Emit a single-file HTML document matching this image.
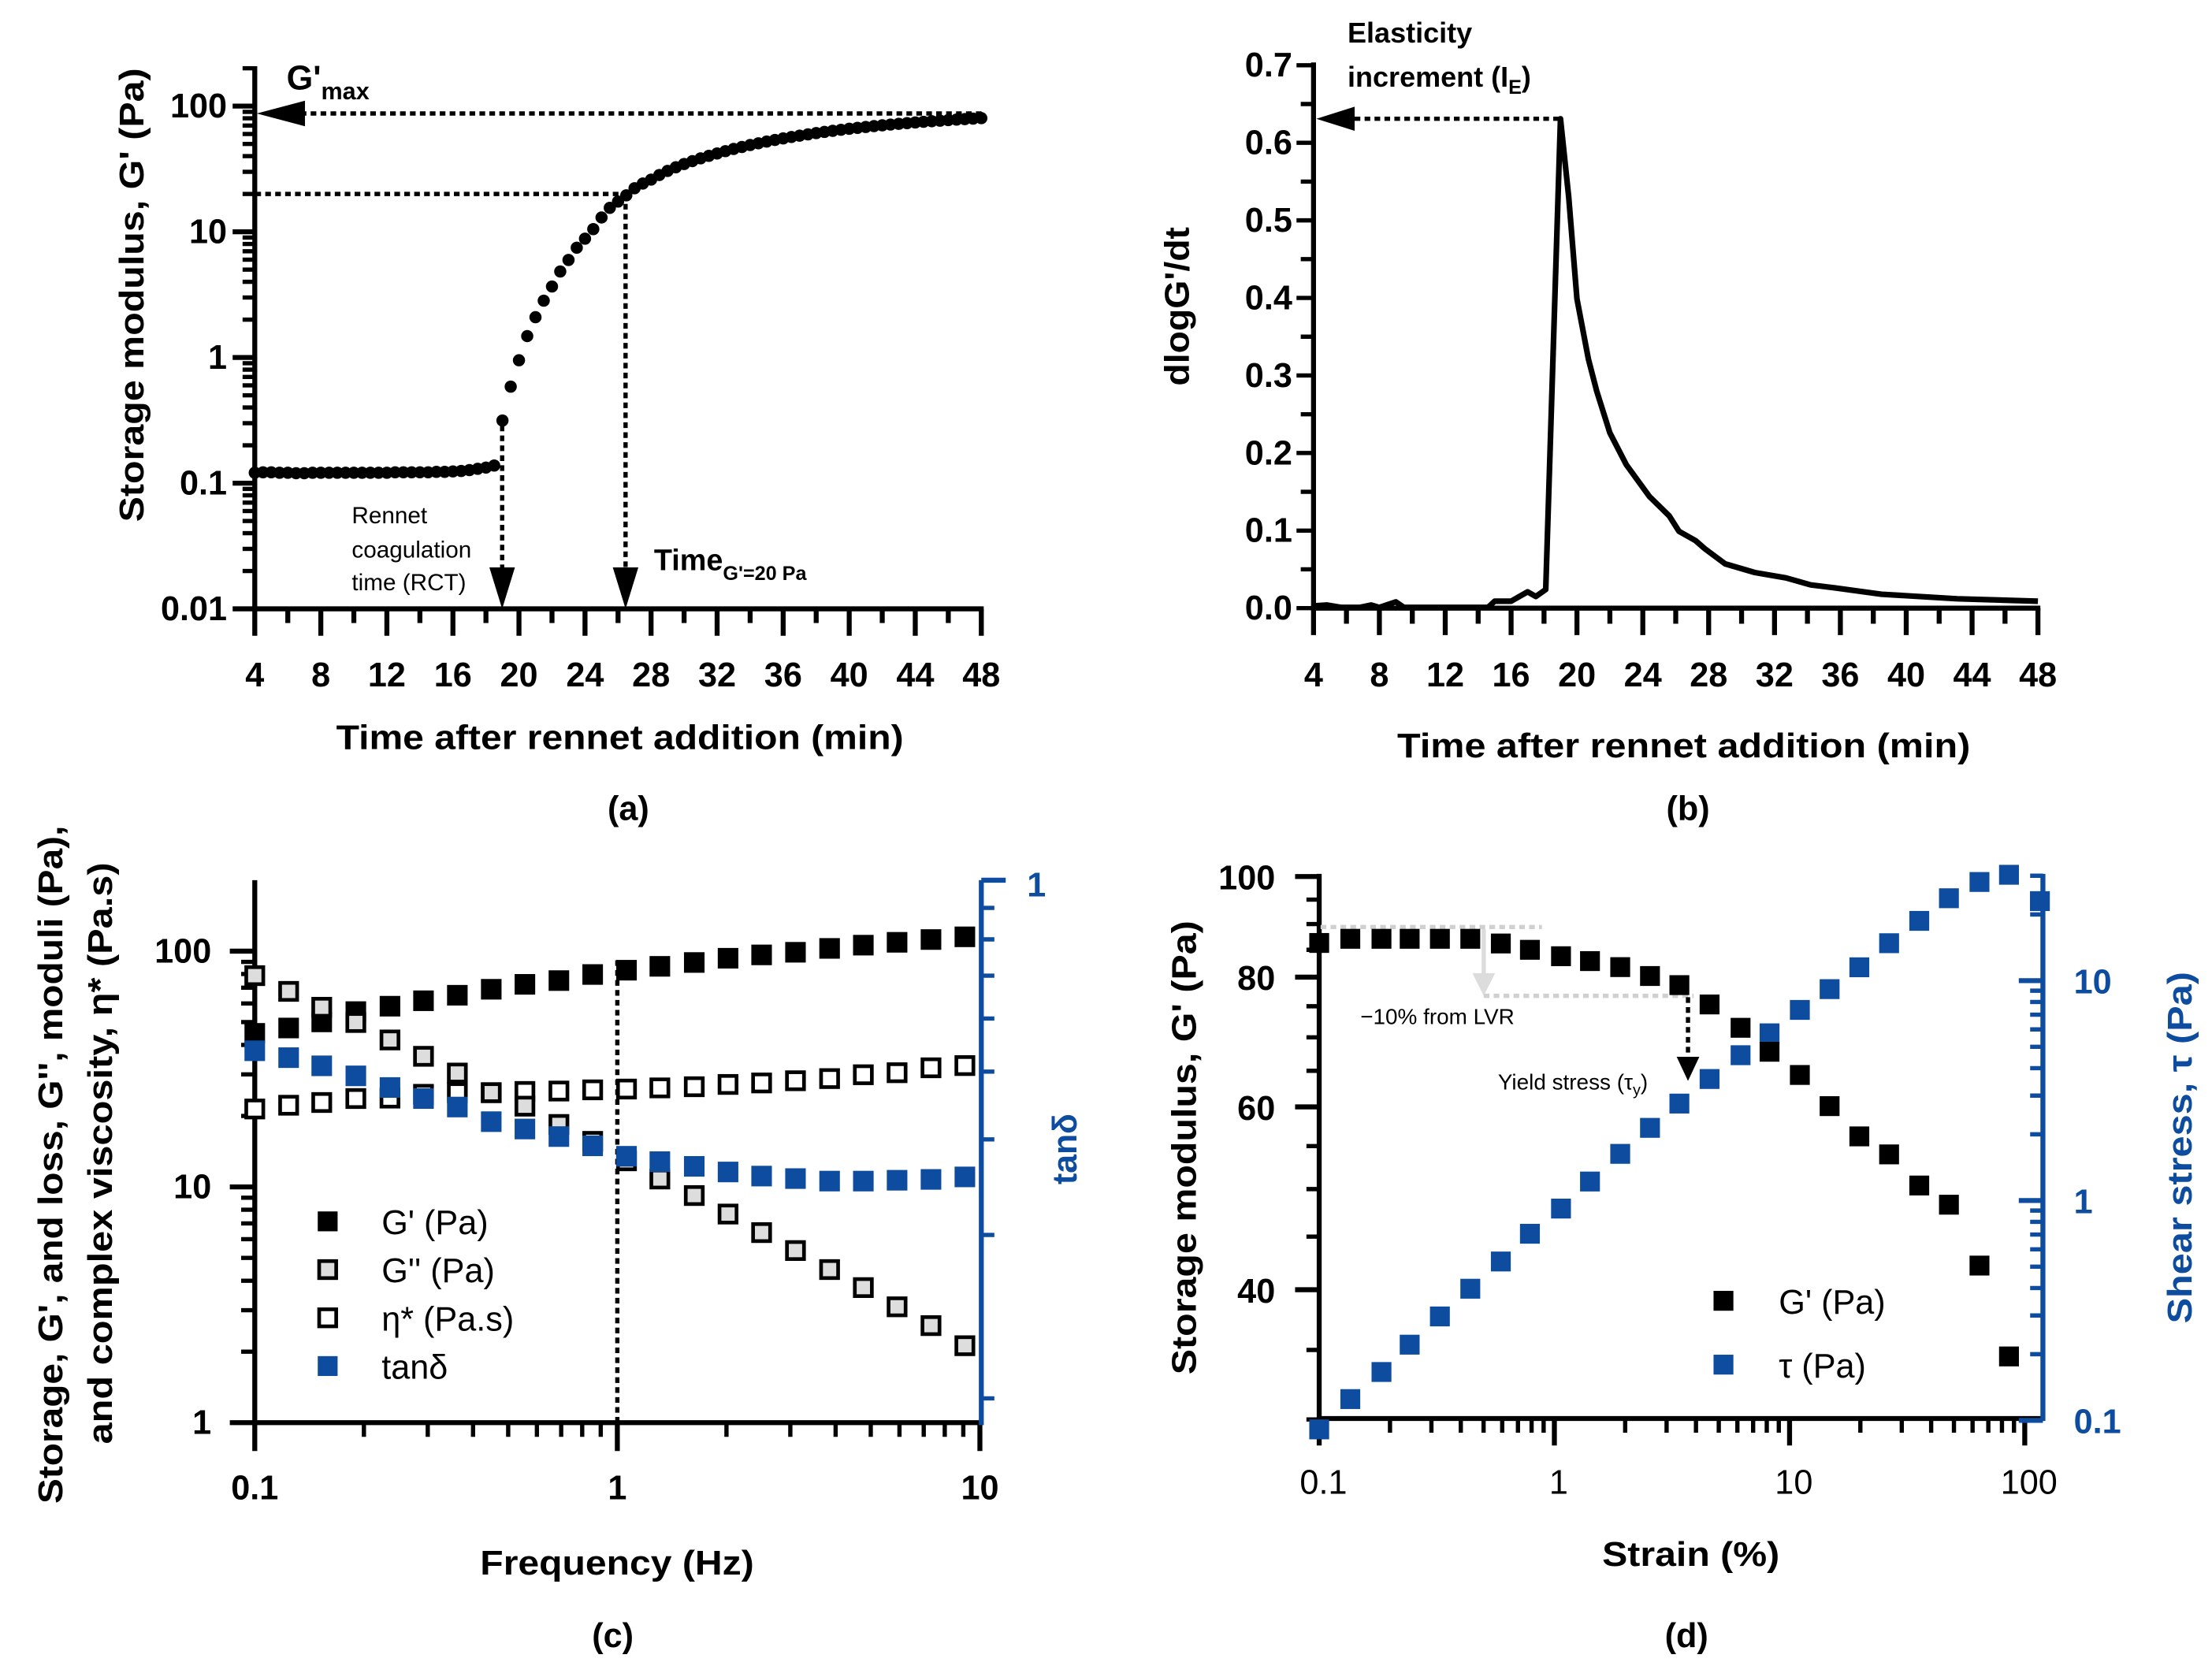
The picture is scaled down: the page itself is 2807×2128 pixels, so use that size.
<!DOCTYPE html>
<html><head><meta charset="utf-8"><style>
html,body{margin:0;padding:0;background:#fff;}
svg{display:block;font-family:"Liberation Sans",Arial,sans-serif;}
</style></head><body>
<svg id="chart" xmlns="http://www.w3.org/2000/svg" width="2807" height="2128" viewBox="0 0 1559.4 1182.2"></svg>
<script>
// ---- panel (a) data ----
const aTimes=[4,4.5,5,5.5,6,6.5,7,7.5,8,8.5,9,9.5,10,10.5,11,11.5,12,12.5,13,13.5,14,14.5,15,15.5,16,16.5,17,17.5,18,18.5,19,19.5,20,20.5,21,21.5,22,22.5,23,23.5,24,24.5,25,25.5,26,26.5,27,27.5,28,28.5,29,29.5,30,30.5,31,31.5,32,32.5,33,33.5,34,34.5,35,35.5,36,36.5,37,37.5,38,38.5,39,39.5,40,40.5,41,41.5,42,42.5,43,43.5,44,44.5,45,45.5,46,46.5,47,47.5,48];
const aG=[0.121,0.122,0.122,0.121,0.121,0.120,0.120,0.121,0.121,0.121,0.121,0.121,0.121,0.121,0.121,0.121,0.121,0.122,0.122,0.122,0.122,0.122,0.123,0.123,0.124,0.125,0.127,0.13,0.133,0.138,0.315,0.586,0.95,1.48,2.09,2.83,3.67,4.83,5.97,7.47,8.81,10.5,13.0,15.5,17.4,19.5,22.2,24.2,26,28.3,30.5,32.6,34.6,36.5,38.4,40.2,42,43.8,45.6,47.3,49,50.6,52.2,53.8,55.3,56.8,58.2,59.6,61,62.3,63.6,64.8,66,67.1,68.2,69.3,70.3,71.3,72.3,73.2,74.1,75,75.8,76.6,77.4,78.1,78.8,79.5,80.2];
const aXTicks=[4,8,12,16,20,24,28,32,36,40,44,48];
const aYTicks=[0.01,0.1,1,10,100];
const aYLabels=["0.01","0.1","1","10","100"];
// ---- panel (b) data ----
const bTimes=[4,4.8,5.7,6.8,7.5,8,9,9.5,14.6,15,16,17,17.5,18.1,19,19.5,20,20.7,21.2,22,23,24.4,25.6,26.2,27.2,27.8,29,30.8,32.7,34.2,35.7,38.5,43.1,48];
const bRate=[0.003,0.004,0.001,0.001,0.004,0.001,0.008,0.001,0.001,0.009,0.009,0.021,0.015,0.024,0.631,0.530,0.399,0.321,0.280,0.226,0.185,0.144,0.119,0.099,0.087,0.076,0.057,0.046,0.039,0.030,0.026,0.018,0.012,0.009];
const bYTicks=[0,0.1,0.2,0.3,0.4,0.5,0.6,0.7];
const bYLabels=["0.0","0.1","0.2","0.3","0.4","0.5","0.6","0.7"];
// ---- panel (c) data ----
const cFreq=[0.1,0.124,0.153,0.19,0.236,0.292,0.362,0.449,0.556,0.69,0.855,1.06,1.31,1.63,2.02,2.5,3.1,3.85,4.77,5.91,7.33,9.09];
const cGp=[44.8,47.2,50.1,55.4,58.4,61.6,65.0,68.9,72.3,75.0,79.6,83.0,86.2,89.5,93.3,96.4,98.9,102.7,106,109,112,115];
const cFlat=[21.4,22.2,22.8,23.7,23.8,24.7,25.1,25.1,25.4,25.5,25.8,26.0,26.3,26.6,27.2,27.6,28.2,28.8,29.9,30.5,32.0,32.7];
const cDec=[78.7,67.5,57.8,49.8,42.0,35.8,30.4,25.1,22.0,18.4,15.6,12.9,10.8,9.19,7.67,6.40,5.37,4.46,3.74,3.10,2.58,2.12];
const cTan=[0.485,0.471,0.455,0.436,0.415,0.396,0.382,0.359,0.348,0.337,0.324,0.310,0.303,0.297,0.290,0.285,0.282,0.279,0.279,0.280,0.281,0.284];
const cTanTicks=[0.889,0.778,0.667,0.556,0.444,0.333,0.222,0.111];
// ---- panel (d) data ----
const dStrain=[0.1,0.1356,0.184,0.2425,0.326,0.439,0.592,0.787,1.067,1.417,1.905,2.55,3.40,4.57,6.19,8.22,11.06,14.8,19.8,26.5,35.6,47.6,64.2,85.7];
const dG=[86.3,87.1,87.1,87.1,87.1,87.1,86.2,85.0,83.8,82.9,81.8,80.2,78.6,75.3,71.5,67.8,64.4,60.1,56.2,54.0,50.4,48.3,42.2,34.5];
const dTauStrain=[0.1,0.1356,0.184,0.2425,0.326,0.439,0.592,0.787,1.067,1.417,1.905,2.55,3.40,4.57,6.19,8.22,11.06,14.8,19.8,26.5,35.6,47.6,64.2,85.7,116];
const dTau=[0.091,0.125,0.166,0.221,0.297,0.397,0.528,0.706,0.919,1.22,1.63,2.14,2.76,3.57,4.58,5.76,7.36,9.15,11.5,14.8,18.7,23.7,28.1,30.3,23.0];
const dYTicks=[40,60,80,100];
const dTauTicks=[0.1,1,10];
const dTauLabels=["0.1","1","10"];

const NS="http://www.w3.org/2000/svg";
const svg=document.getElementById('chart');
const BLUE="#0d4c9e";
const L=Math.log10;
function g(name,parent){const e=document.createElementNS(NS,'g');(parent||svg).appendChild(e);


return e;}
function line(p,x1,y1,x2,y2,sw,col,dash,name){const e=document.createElementNS(NS,'line');
e.setAttribute('x1',x1);e.setAttribute('y1',y1);e.setAttribute('x2',x2);e.setAttribute('y2',y2);
e.setAttribute('stroke',col||'#000');e.setAttribute('stroke-width',sw);if(dash)e.setAttribute('stroke-dasharray',dash);


p.appendChild(e);return e;}
function text(p,x,y,str,size,weight,anchor,col,name,rot,len){const e=document.createElementNS(NS,'text');
e.setAttribute('x',x);e.setAttribute('y',y);e.setAttribute('font-size',size);e.setAttribute('font-weight',weight);
e.setAttribute('text-anchor',anchor);e.setAttribute('fill',col||'#000');
if(rot)e.setAttribute('transform','rotate(-90 '+x+' '+y+')');
if(len){e.setAttribute('textLength',len);e.setAttribute('lengthAdjust','spacingAndGlyphs');}
e.textContent=str;


p.appendChild(e);return e;}
function tsp(t,str,size,dy,name){const s=document.createElementNS(NS,'tspan');
if(size)s.setAttribute('font-size',size);if(dy)s.setAttribute('dy',dy);s.textContent=str;


t.appendChild(s);return s;}
function poly(p,pts,fill,name){const e=document.createElementNS(NS,'polygon');e.setAttribute('points',pts);e.setAttribute('fill',fill);


p.appendChild(e);return e;}
function sq(p,x,y,s,fill,stroke,sw,name){const e=document.createElementNS(NS,'rect');
e.setAttribute('x',x-s/2);e.setAttribute('y',y-s/2);e.setAttribute('width',s);e.setAttribute('height',s);
e.setAttribute('fill',fill);if(stroke){e.setAttribute('stroke',stroke);e.setAttribute('stroke-width',sw);}


p.appendChild(e);return e;}

// ================= Panel (a) =================
(function(){
const P=g('panel-a');
const ax=t=>179.6+(t-4)*(691.8-179.6)/44;
const ay=v=>74.8+(2-L(v))*88.6;
const y0=ay(0.01), yTop=46.7;
for(let d=0.01;d<=100;d*=10){for(let m=2;m<=9;m++){const v=d*m;const y=ay(v);if(y<yTop)continue;line(P,179.6,y,171,y,3,'#000',null,'y-minor-tick');}}
aYTicks.forEach((v,i)=>{line(P,179.6,ay(v),164,ay(v),3.5,'#000',null,'y-major-tick');text(P,160,ay(v)+8,aYLabels[i],24,'bold','end','#000','y-tick-label');});
for(let t=4;t<=48;t+=2){const maj=(t%4===0);line(P,ax(t),y0,ax(t),y0+(maj?19:10),3.5,'#000',null,maj?'x-major-tick':'x-minor-tick');}
aXTicks.forEach(t=>text(P,ax(t),484,String(t),24,'bold','middle','#000','x-tick-label'));
line(P,179.6,yTop,179.6,y0+1.7,3.5,'#000',null,'y-axis');
line(P,177.9,y0,691.8+1.7,y0,3.5,'#000',null,'x-axis');
text(P,437,528,"Time after rennet addition (min)",24,'bold','middle','#000','x-axis-title',false,400);
text(P,101,208,"Storage modulus, G' (Pa)",24,'bold','middle','#000','y-axis-title',true,320);
text(P,443,578,"(a)",24,'bold','middle','#000','panel-label-a');
const ymax=80;
line(P,212,ymax,693,ymax,3,'#000','4 3','gmax-dotted-line');
poly(P,`181,${ymax} 215,${ymax-9} 215,${ymax+9}`,'#000','gmax-arrowhead');
const y20=ay(20);
line(P,180,y20,441,y20,3,'#000','4 3','g20-horizontal-dotted');
line(P,441,y20,441,402,3,'#000','4 3','g20-vertical-dotted');
poly(P,`441,${y0} 432,400 450,400`,'#000','time-g20-arrowhead');
line(P,354,300,354,402,3,'#000','4 3','rct-vertical-dotted');
poly(P,`354,${y0} 345,400 363,400`,'#000','rct-arrowhead');
const gm=text(P,202,63,"",24,'bold','start','#000','gmax-label');
tsp(gm,"G'",null,null,'gmax-main');
tsp(gm,"max",17,7,'gmax-subscript');
text(P,248,369,"Rennet",16.5,'normal','start','#000','rct-label-line1');
text(P,248,393,"coagulation",16.5,'normal','start','#000','rct-label-line2');
text(P,248,416,"time (RCT)",16.5,'normal','start','#000','rct-label-line3');
const tg=text(P,461,402,"",21,'bold','start','#000','time-g20-label');
tsp(tg,"Time",null,null,'time-main');
tsp(tg,"G'=20 Pa",14,7,'time-g20-subscript');
const S=g('series-gprime-time',P);
aTimes.forEach((t,i)=>{const c=document.createElementNS(NS,'circle');c.setAttribute('cx',ax(t));c.setAttribute('cy',ay(aG[i]));c.setAttribute('r',4.3);c.setAttribute('fill','#000');


S.appendChild(c);});
})();

// ================= Panel (b) =================
(function(){
const P=g('panel-b');
const bx=t=>926+(t-4)*(1436.7-926)/44;
const by=v=>428.7-v*(428.7-46)/0.7;
const y0=by(0);
for(let k=0;k<=14;k++){const v=k*0.05;line(P,926,by(v),k%2?917:914,by(v),3,'#000',null,k%2?'y-minor-tick':'y-major-tick');}
bYTicks.forEach((v,i)=>text(P,911,by(v)+8,bYLabels[i],24,'bold','end','#000','y-tick-label'));
for(let t=4;t<=48;t+=2){const maj=(t%4===0);line(P,bx(t),y0,bx(t),y0+(maj?19:11),3.5,'#000',null,maj?'x-major-tick':'x-minor-tick');}
aXTicks.forEach(t=>text(P,bx(t),484,String(t),24,'bold','middle','#000','x-tick-label'));
line(P,926,44,926,y0+1.7,3.5,'#000',null,'y-axis');
line(P,924.3,y0,1438.4,y0,3.5,'#000',null,'x-axis');
text(P,1187,534,"Time after rennet addition (min)",24,'bold','middle','#000','x-axis-title',false,404);
text(P,838,216,"dlogG'/dt",24,'bold','middle','#000','y-axis-title',true,112);
text(P,1190,578,"(b)",24,'bold','middle','#000','panel-label-b');
text(P,950,30,"Elasticity",20,'bold','start','#000','ie-label-line1');
const ie=text(P,950,61,"",20,'bold','start','#000','ie-label-line2');
tsp(ie,"increment (I",null,null,'ie-main');
tsp(ie,"E",14,5,'ie-subscript');
tsp(ie,")",null,-5,'ie-close');
const pk=by(0.631);
line(P,955,pk,1100,pk,3,'#000','4 3','ie-dotted-line');
poly(P,`928,${pk} 955,${pk-8.5} 955,${pk+8.5}`,'#000','ie-arrowhead');
const pts=bTimes.map((t,i)=>bx(t).toFixed(1)+','+by(bRate[i]).toFixed(1)).join(' ');
const pl=document.createElementNS(NS,'polyline');pl.setAttribute('points',pts);pl.setAttribute('fill','none');pl.setAttribute('stroke','#000');pl.setAttribute('stroke-width',4);pl.setAttribute('stroke-linejoin','round');


P.appendChild(pl);
})();

// ================= Panel (c) =================
(function(){
const P=g('panel-c');
const cx=f=>179.6+(L(f)+1)*255.6;
const cy=v=>1002.9-L(v)*166.2;
const ct=v=>620.5-L(v)*382.6;
const y0=cy(1), xr=691.8;
for(let d=1;d<=100;d*=10){for(let m=2;m<=9;m++){const y=cy(d*m);if(y<620.5)continue;line(P,179.6,y,170,y,3,'#000',null,'y-minor-tick');}}
[1,10,100].forEach(v=>{line(P,179.6,cy(v),162,cy(v),3.5,'#000',null,'y-major-tick');text(P,149,cy(v)+8,String(v),24,'bold','end','#000','y-tick-label');});
for(let d=0.1;d<10;d*=10){for(let m=2;m<=9;m++){const x=cx(d*m);line(P,x,y0,x,y0+10,3,'#000',null,'x-minor-tick');}}
[0.1,1,10].forEach(f=>{line(P,cx(f),y0,cx(f),y0+20,3.5,'#000',null,'x-major-tick');text(P,cx(f),1057,String(f),24,'bold','middle','#000','x-tick-label');});
line(P,179.6,620.5,179.6,y0+1.7,3.5,'#000',null,'y-axis');
line(P,177.9,y0,xr,y0,3.5,'#000',null,'x-axis');
line(P,xr,620.5,xr,y0+1.7,3.5,BLUE,null,'tan-delta-axis');
line(P,xr,ct(1),709,ct(1),3.5,BLUE,null,'tan-major-tick');
cTanTicks.forEach(v=>line(P,xr,ct(v),701,ct(v),3,BLUE,null,'tan-minor-tick'));
text(P,724,632,"1",24,'bold','start',BLUE,'tan-tick-label');
text(P,759,810,"tanδ",24,'bold','middle',BLUE,'tan-axis-title',true,50);
text(P,435,1110,"Frequency (Hz)",24,'bold','middle','#000','x-axis-title',false,193);
text(P,44,821,"Storage, G', and loss, G'', moduli (Pa),",24,'bold','middle','#000','y-axis-title-line1',true,478);
text(P,79,813,"and complex viscosity, η* (Pa.s)",24,'bold','middle','#000','y-axis-title-line2',true,410);
text(P,432,1161,"(c)",24,'bold','middle','#000','panel-label-c');
line(P,cx(1),y0,cx(1),676,3,'#000','4 3','one-hz-dotted-line');
const s1=g('series-gprime',P),s2=g('series-gdoubleprime',P),s3=g('series-complex-viscosity',P),s4=g('series-tan-delta',P);
cFreq.forEach((f,i)=>{
 sq(s2,cx(f),cy(cFlat[i]),12,'#fff','#000',2.6,'gdoubleprime-point');
 sq(s3,cx(f),cy(cDec[i]),12,'#ddd','#000',2.6,'viscosity-point');
 sq(s1,cx(f),cy(cGp[i]),14.5,'#000',null,0,'gprime-point');
 sq(s4,cx(f),ct(cTan[i]),14.5,BLUE,null,0,'tan-delta-point');
});
const Lg=g('legend-c',P);
sq(Lg,231,861,14,'#000',null,0,'legend-gprime-marker');text(Lg,269,870,"G' (Pa)",24,'normal','start','#000','legend-gprime-label');
sq(Lg,231,895,12,'#ddd','#000',2.6,'legend-gdoubleprime-marker');text(Lg,269,904,"G'' (Pa)",24,'normal','start','#000','legend-gdoubleprime-label');
sq(Lg,231,929,12,'#fff','#000',2.6,'legend-viscosity-marker');text(Lg,269,938,"η* (Pa.s)",24,'normal','start','#000','legend-viscosity-label');
sq(Lg,231,963,14,BLUE,null,0,'legend-tan-marker');text(Lg,269,972,"tanδ",24,'normal','start','#000','legend-tan-label');
})();

// ================= Panel (d) =================
(function(){
const P=g('panel-d');
const dx=s=>930+(L(s)+1)*165.8;
const dy=v=>617.9+(2-L(v))*732;
const dt=v=>846.3-L(v)*155;
const y0=1000, xr=1440.2;
for(let v=30;v<=100;v+=5){if(dYTicks.indexOf(v)>=0)continue;line(P,930,dy(v),921,dy(v),3,'#000',null,'y-minor-tick');}
dYTicks.forEach(v=>{line(P,930,dy(v),913,dy(v),3.5,'#000',null,'y-major-tick');text(P,899,dy(v)+9,String(v),24,'bold','end','#000','y-tick-label');});
for(let d=0.1;d<100;d*=10){for(let m=2;m<=9;m++){const x=dx(d*m);line(P,x,y0,x,y0+10,3,'#000',null,'x-minor-tick');}}
[0.1,1,10,100].forEach(s=>{line(P,dx(s),y0,dx(s),y0+19,3.5,'#000',null,'x-major-tick');text(P,dx(s)+3,1053,String(s),24,'normal','middle','#000','x-tick-label');});
line(P,930,616,930,y0+1.7,3.5,'#000',null,'y-axis');
line(P,928.3,y0,xr,y0,3.5,'#000',null,'x-axis');
line(P,xr,616,xr,y0+1.7,3.5,BLUE,null,'shear-stress-axis');
for(let d=0.1;d<=10;d*=10){for(let m=2;m<=9;m++){const y=dt(d*m);if(y<617)continue;line(P,xr,y,xr-9,y,3,BLUE,null,'tau-minor-tick');}}
dTauTicks.forEach((v,i)=>{line(P,xr,dt(v),xr-17,dt(v),3.5,BLUE,null,'tau-major-tick');text(P,1462,dt(v)+9,dTauLabels[i],24,'bold','start',BLUE,'tau-tick-label');});
text(P,1192,1104,"Strain (%)",24,'bold','middle','#000','x-axis-title',false,125);
text(P,1189,1161,"(d)",24,'bold','middle','#000','panel-label-d');
text(P,843,809,"Storage modulus, G' (Pa)",24,'bold','middle','#000','y-axis-title',true,320);
text(P,1545,809,"Shear stress, τ (Pa)",24,'bold','middle',BLUE,'shear-stress-axis-title',true,248);
line(P,931,653.5,1087,653.5,3,'#d0d0d0','4 3','lvr-dotted-line');
line(P,1046,655,1046,688,3,'#dcdcdc',null,'lvr-drop-arrow-shaft');
poly(P,`1046,702 1038,686 1054,686`,'#dcdcdc','lvr-drop-arrowhead');
line(P,1046,702,1194,702,3,'#d0d0d0','4 3','minus10-dotted-line');
line(P,1190,703,1190,747,3,'#000','4 3','yield-dotted-line');
poly(P,`1190,762 1182,745 1198,745`,'#000','yield-arrowhead');
text(P,959,722,"−10% from LVR",15.5,'normal','start','#000','minus10-label');
const ys=text(P,1056,768,"",15.5,'normal','start','#000','yield-label');
tsp(ys,"Yield stress (τ",null,null,'yield-main');
tsp(ys,"y",11,4,'yield-subscript');
tsp(ys,")",null,-4,'yield-close');
const s1=g('series-tau',P),s2=g('series-gprime-strain',P);
dTauStrain.forEach((s,i)=>sq(s1,dx(s),dt(dTau[i]),14,BLUE,null,0,'tau-point'));
dStrain.forEach((s,i)=>sq(s2,dx(s),dy(dG[i]),14,'#000',null,0,'gprime-point'));
const Lg=g('legend-d',P);
sq(Lg,1215,917,14,'#000',null,0,'legend-gprime-marker');text(Lg,1254,926,"G' (Pa)",24,'normal','start','#000','legend-gprime-label');
sq(Lg,1215,962,14,BLUE,null,0,'legend-tau-marker');text(Lg,1254,971,"τ (Pa)",24,'normal','start','#000','legend-tau-label');
})();
</script>
</body></html>
